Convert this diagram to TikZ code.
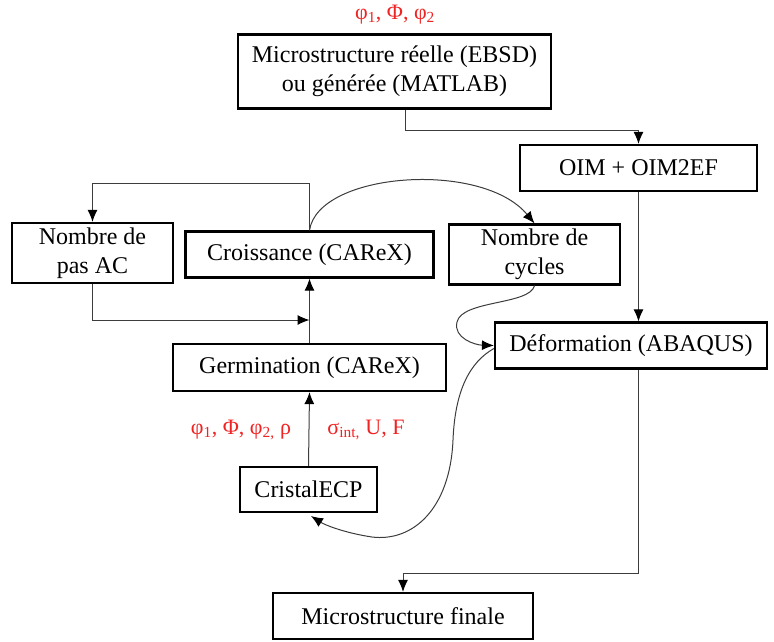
\documentclass[tikz,border=0pt]{standalone}
\usepackage{fontspec}
\setmainfont{Liberation Serif}
\usetikzlibrary{arrows.meta}
\definecolor{lblred}{RGB}{240,35,35}
\definecolor{conncol}{RGB}{60,60,60}
\begin{document}
\begin{tikzpicture}[x=1pt,y=-1pt,
  box/.style={draw=black,line width=2.2pt,inner sep=0pt,align=center,
    font=\fontsize{24}{29}\selectfont},
  conn/.style={draw=conncol,line width=1pt},
  arr/.style={conn,-{Latex[length=12pt,width=10pt,color=black]}},
  lbl/.style={text=lblred,font=\fontsize{22}{26}\selectfont,inner sep=0pt}]
\useasboundingbox (0,0) rectangle (774,641);
% nodes
\node[lbl] (top) at (395,15) {φ\textsubscript{1}, Φ, φ\textsubscript{2}};
\node[box,minimum width=313pt,minimum height=74pt] (A) at (394.5,71.5) {Microstructure réelle (EBSD)\\ou générée (MATLAB)};
\node[box,minimum width=237pt,minimum height=46pt] (B) at (638.5,168) {OIM + OIM2EF};
\node[box,minimum width=272pt,minimum height=46pt] (D) at (631,345.5) {Déformation (ABAQUS)};
\node[box,minimum width=260pt,minimum height=46pt] (F) at (403,616) {Microstructure finale};
\node[box,minimum width=161pt,minimum height=60pt] (N) at (92.5,253) {Nombre de\\pas AC};
\node[box,minimum width=248pt,minimum height=46pt] (C) at (309.5,254.5) {Croissance (CAReX)};
\node[box,minimum width=171pt,minimum height=60pt] (NC) at (534.5,254.5) {Nombre de\\cycles};
\node[box,minimum width=273pt,minimum height=47pt] (G) at (309.5,367.5) {Germination (CAReX)};
\node[box,minimum width=137pt,minimum height=45pt] (Cr) at (308.5,489.5) {CristalECP};
\node[lbl] (l1) at (241,430) {φ\textsubscript{1}, Φ, φ\textsubscript{2,} ρ};
\node[lbl] (l2) at (366,430) {σ\textsubscript{int,} U, F};
\coordinate (j) at (309.5,320);
% connectors
\draw[arr] ([xshift=10.5pt]A.south) -- ++(0,21) -| (B.north);
\draw[arr] (B.south) -- (B.south |- D.north);
\draw[arr] (B.south |- D.south) -- ++(0,204) -| (F.north);
\draw[arr] (C.north) -- ++(0,-47) -| (N.north);
\draw[arr] (N.south) |- (j);
\draw[arr] (G.north) -- (C.south);
\draw[arr] (Cr.north) -- (G.south);
\draw[arr] (C.north) .. controls (318,172) and (482,160) .. (NC.north);
\draw[arr] (NC.south) .. controls (530,305) and (462,300) .. (457,322) .. controls (453,338) and (475,345) .. (D.west);
\draw[arr] ([yshift=-3pt]D.west) .. controls (470,362) and (455,390) .. (453,440) .. controls (450,510) and (412,542) .. (372,537) .. controls (345,533) and (325,525) .. (311,516);
\end{tikzpicture}
\end{document}
